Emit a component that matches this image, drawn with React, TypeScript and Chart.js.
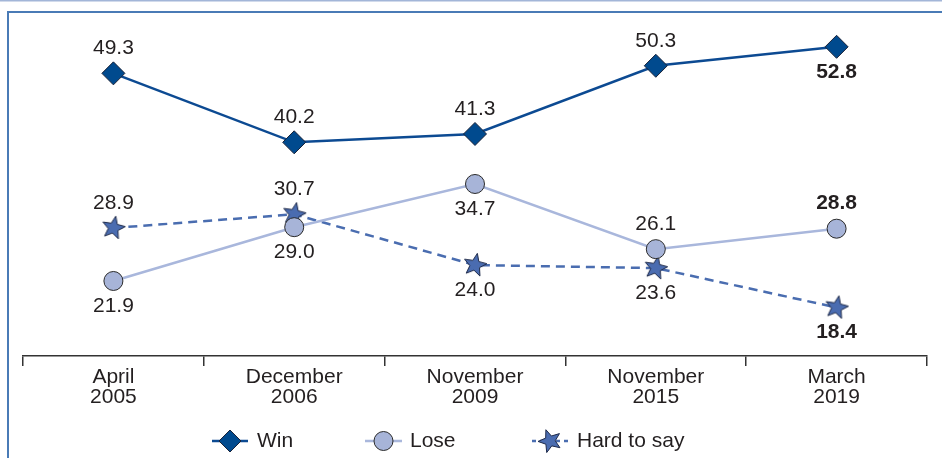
import React, { useEffect, useRef } from 'react';
import { Chart, registerables } from 'chart.js';

Chart.register(...registerables);

const categories: string[][] = [
  ['April', '2005'],
  ['December', '2006'],
  ['November', '2009'],
  ['November', '2015'],
  ['March', '2019'],
];
const seriesNames = ['Win', 'Lose', 'Hard to say'];
const winValues = [49.3, 40.2, 41.3, 50.3, 52.8];
const loseValues = [21.9, 29.0, 34.7, 26.1, 28.8];
const hardValues = [28.9, 30.7, 24.0, 23.6, 18.4];
const winLabelSide = ['above', 'above', 'above', 'above', 'below'];
const loseLabelSide = ['below', 'below', 'below', 'above', 'above'];
const hardLabelSide = ['above', 'above', 'below', 'below', 'below'];

const FONT = '"Liberation Sans", Arial, Helvetica, sans-serif';
const TEXT = '#231f20';

const WIN_LINE = '#0c4a92';
const WIN_FILL = '#004a8e';
const WIN_EDGE = '#1a2238';
const LOSE_LINE = '#a9b7dc';
const LOSE_FILL = '#a7b4d8';
const LOSE_EDGE = '#2b2b2b';
const HARD_LINE = '#4a6db0';
const HARD_FILL = '#4a6cb0';
const HARD_EDGE = '#1e2a4a';

function starPath(ctx: CanvasRenderingContext2D, cx: number, cy: number, ro: number, ri: number, rot: number) {
  ctx.beginPath();
  for (let i = 0; i < 10; i++) {
    const r = i % 2 === 0 ? ro : ri;
    const a = -Math.PI / 2 + rot + (i * Math.PI) / 5;
    const x = cx + r * Math.cos(a);
    const y = cy + r * Math.sin(a);
    if (i === 0) ctx.moveTo(x, y);
    else ctx.lineTo(x, y);
  }
  ctx.closePath();
}

function makeStar(rot: number): HTMLCanvasElement {
  const c = document.createElement('canvas');
  c.width = 28;
  c.height = 28;
  const ctx = c.getContext('2d')!;
  starPath(ctx, 14, 14, 12, 5.2, rot);
  ctx.fillStyle = HARD_FILL;
  ctx.fill();
  ctx.lineWidth = 1;
  ctx.strokeStyle = HARD_EDGE;
  ctx.stroke();
  return c;
}

let starImage: HTMLCanvasElement | null = null;
let legendStar: HTMLCanvasElement | null = null;

const framePlugin = {
  id: 'frame',
  beforeDraw(chart: any) {
    const ctx = chart.ctx;
    ctx.save();
    ctx.fillStyle = '#ffffff';
    ctx.fillRect(0, 0, chart.width, chart.height);
    ctx.strokeStyle = '#a3b6d8';
    ctx.lineWidth = 1.5;
    ctx.beginPath();
    ctx.moveTo(0, 0.75);
    ctx.lineTo(chart.width, 0.75);
    ctx.stroke();
    ctx.strokeStyle = '#4a7bb6';
    ctx.lineWidth = 2;
    ctx.beginPath();
    ctx.moveTo(8, chart.height);
    ctx.lineTo(8, 12);
    ctx.lineTo(chart.width, 12);
    ctx.stroke();
    ctx.restore();
  },
};

const sides = [winLabelSide, loseLabelSide, hardLabelSide];

const labelPlugin = {
  id: 'valueLabels',
  afterDatasetsDraw(chart: any) {
    const ctx = chart.ctx;
    ctx.save();
    ctx.fillStyle = TEXT;
    ctx.textAlign = 'center';
    ctx.textBaseline = 'middle';
    chart.data.datasets.forEach((ds: any, di: number) => {
      const meta = chart.getDatasetMeta(di);
      meta.data.forEach((pt: any, i: number) => {
        const v = ds.data[i] as number;
        const last = i === ds.data.length - 1;
        ctx.font = (last ? 'bold ' : '') + '21px ' + FONT;
        const dy = sides[di][i] === 'above' ? -25 : 25;
        ctx.fillText(v.toFixed(1), pt.x, pt.y + dy);
      });
    });
    ctx.restore();
  },
};

const legendPlugin = {
  id: 'customLegend',
  afterDraw(chart: any) {
    const ctx = chart.ctx;
    const y = 441;
    const items = [
      { x0: 212, x1: 248, tx: 257 },
      { x0: 365, x1: 402, tx: 410 },
      { x0: 532, x1: 568, tx: 577 },
    ];
    ctx.save();
    items.forEach((it, k) => {
      const cx = (it.x0 + it.x1) / 2;
      ctx.lineWidth = 2.5;
      if (k === 0) ctx.strokeStyle = WIN_LINE;
      if (k === 1) ctx.strokeStyle = LOSE_LINE;
      if (k === 2) {
        ctx.strokeStyle = HARD_LINE;
        ctx.setLineDash([4, 4]);
      }
      ctx.beginPath();
      ctx.moveTo(it.x0, y);
      ctx.lineTo(it.x1, y);
      ctx.stroke();
      ctx.setLineDash([]);
      if (k === 0) {
        ctx.beginPath();
        ctx.moveTo(cx - 11, y);
        ctx.lineTo(cx, y - 11);
        ctx.lineTo(cx + 11, y);
        ctx.lineTo(cx, y + 11);
        ctx.closePath();
        ctx.fillStyle = WIN_FILL;
        ctx.fill();
        ctx.lineWidth = 1;
        ctx.strokeStyle = WIN_EDGE;
        ctx.stroke();
      } else if (k === 1) {
        ctx.beginPath();
        ctx.arc(cx, y, 9.5, 0, Math.PI * 2);
        ctx.fillStyle = LOSE_FILL;
        ctx.fill();
        ctx.lineWidth = 1;
        ctx.strokeStyle = LOSE_EDGE;
        ctx.stroke();
      } else if (legendStar) {
        ctx.drawImage(legendStar, cx - legendStar.width / 2, y - legendStar.height / 2);
      }
      ctx.fillStyle = TEXT;
      ctx.font = '21px ' + FONT;
      ctx.textAlign = 'left';
      ctx.textBaseline = 'middle';
      ctx.fillText(seriesNames[k], it.tx, y);
    });
    ctx.restore();
  },
};

export default function App() {
  const ref = useRef<HTMLCanvasElement | null>(null);
  useEffect(() => {
    if (!ref.current) return;
    starImage = makeStar(0.2);
    legendStar = makeStar(-0.35);
    const chart = new Chart(ref.current, {
      type: 'line',
      data: {
        labels: categories,
        datasets: [
          {
            label: seriesNames[0],
            data: winValues,
            borderColor: WIN_LINE,
            borderWidth: 2.5,
            pointStyle: 'rectRot',
            pointRadius: 11.5,
            pointBackgroundColor: WIN_FILL,
            pointBorderColor: WIN_EDGE,
            pointBorderWidth: 1,
            tension: 0,
            clip: false as any,
          },
          {
            label: seriesNames[1],
            data: loseValues,
            borderColor: LOSE_LINE,
            borderWidth: 2.5,
            pointStyle: 'circle',
            pointRadius: 9.5,
            pointBackgroundColor: LOSE_FILL,
            pointBorderColor: LOSE_EDGE,
            pointBorderWidth: 1,
            tension: 0,
            clip: false as any,
          },
          {
            label: seriesNames[2],
            data: hardValues,
            borderColor: HARD_LINE,
            borderWidth: 2.5,
            borderDash: [9, 6],
            pointStyle: starImage as any,
            pointRadius: 12,
            tension: 0,
            clip: false as any,
          },
        ],
      },
      options: {
        responsive: false,
        animation: false,
        events: [],
        layout: { padding: { left: 23, right: 15, top: 15, bottom: 0 } },
        plugins: {
          legend: { display: false },
          tooltip: { enabled: false },
        },
        scales: {
          x: {
            offset: true,
            grid: {
              display: true,
              offset: true,
              drawOnChartArea: false,
              drawTicks: true,
              tickLength: 10,
              color: '#333333',
              lineWidth: 1.5,
            },
            border: { display: true, color: '#333333', width: 1.5 },
            ticks: {
              color: TEXT,
              padding: 1,
              maxRotation: 0,
              autoSkip: false,
              font: { family: FONT, size: 21, lineHeight: 0.95 },
            },
            afterFit(scale: any) {
              scale.height = 102;
            },
          },
          y: {
            display: false,
            min: 12,
            max: 57,
          },
        },
      },
      plugins: [framePlugin, labelPlugin, legendPlugin],
    });
    return () => chart.destroy();
  }, []);
  return (
    <div style={{ position: 'fixed', left: 0, top: 0, width: 942, height: 458 }}>
      <canvas ref={ref} width={942} height={458} style={{ width: 942, height: 458, display: 'block' }} />
    </div>
  );
}
